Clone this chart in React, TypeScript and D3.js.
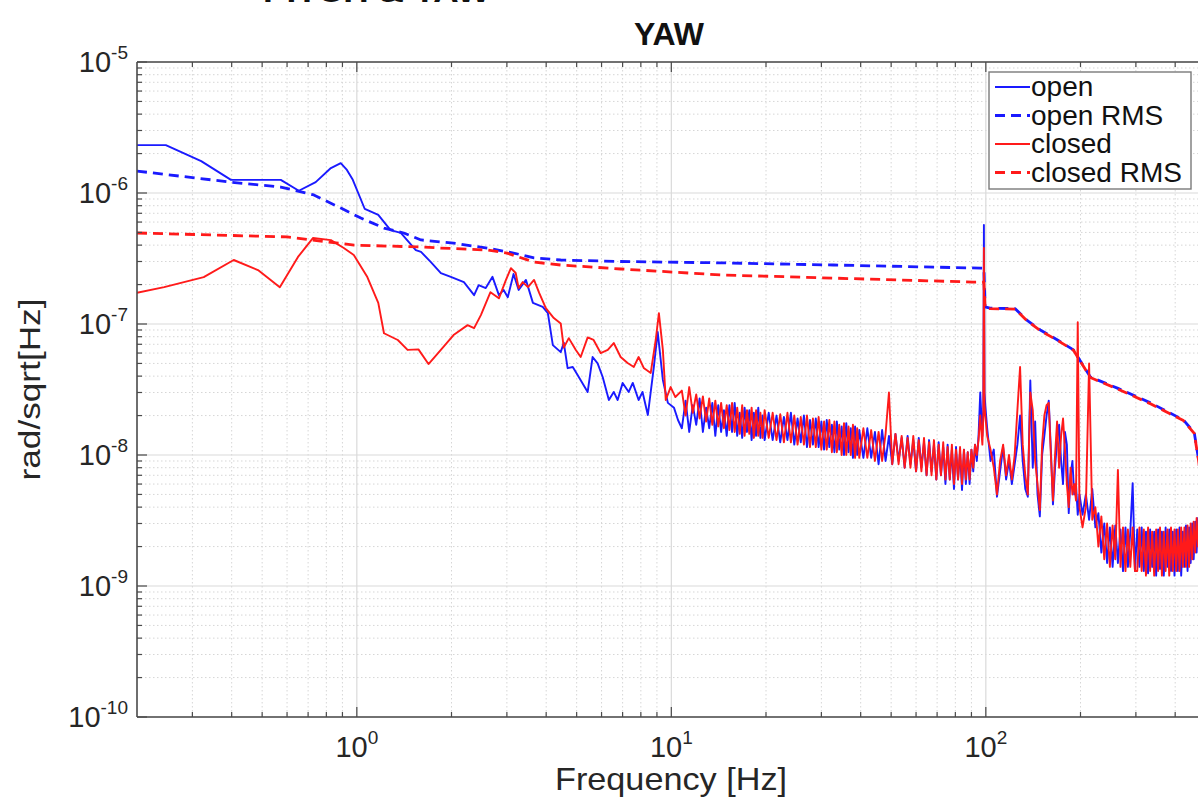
import React from 'react';
import * as d3 from 'd3';

// values in nrad/sqrt(Hz) (multiplied by NANO when plotted)
const NANO = 1e-9;

// ---- open loop PSD ----
const openLow: [number, number][] = [
  [0.2, 2320], [0.247, 2320], [0.32, 1750], [0.398, 1260], [0.573, 1260], [0.654, 1040], [0.74, 1210],
  [0.827, 1550], [0.889, 1690], [0.93, 1500], [0.971, 1260], [1.06, 755], [1.17, 680], [1.28, 520],
  [1.38, 496], [1.54, 367], [1.6, 355], [1.72, 297], [1.85, 245], [1.99, 229], [2.19, 209], [2.36, 166],
  [2.44, 198], [2.57, 188], [2.7, 229], [2.83, 166], [2.93, 182], [3.02, 160], [3.15, 241], [3.27, 182],
  [3.45, 217], [3.63, 145], [3.9, 135], [4.05, 121], [4.2, 69], [4.45, 61], [4.55, 72], [4.68, 46],
  [4.86, 47], [5.04, 40.7], [5.42, 30.3], [5.62, 56], [5.83, 50], [6.05, 39.4], [6.33, 26.3], [6.56, 30.3],
  [6.75, 26.3], [7.0, 35.5], [7.32, 30.3], [7.54, 35.5], [7.87, 26.3], [8.1, 30.3], [8.42, 20.2], [8.8, 47],
  [9.05, 87], [9.4, 37.4], [9.75, 25], [10.2, 22.9], [10.5, 18.5],
];

// ---- closed loop PSD ----
const closedLow: [number, number][] = [
  [0.2, 173], [0.244, 191], [0.326, 228], [0.406, 308], [0.485, 258], [0.569, 191], [0.65, 325], [0.725, 453],
  [0.827, 437], [0.909, 380], [0.978, 336], [1.08, 228], [1.17, 145], [1.22, 85], [1.35, 75.5], [1.45, 63.4],
  [1.57, 64], [1.69, 49.5], [1.85, 63.4], [2.03, 82.4], [2.25, 98], [2.36, 93], [2.48, 117], [2.66, 175],
  [2.83, 157], [2.98, 217], [3.09, 267], [3.2, 245], [3.27, 188], [3.37, 209], [3.5, 191], [3.66, 217],
  [3.8, 173], [3.99, 132], [4.23, 111], [4.45, 101], [4.55, 66], [4.72, 78], [4.97, 63.4], [5.15, 56],
  [5.42, 79], [5.66, 75.5], [5.96, 60], [6.28, 63.4], [6.56, 71.6], [6.9, 56], [7.26, 50.4], [7.6, 47],
  [7.87, 56], [8.17, 46.2], [8.6, 42.3], [8.92, 75.5], [9.13, 121], [9.4, 63.4], [9.6, 26.3], [9.95, 33],
  [10.3, 27.7],
];

// 10.8 - 96 Hz frequency bins
const freqMid = [
  10.8, 11.1, 11.4, 11.7, 12.0, 12.3, 12.6, 12.9, 13.2, 13.5, 13.8, 14.1, 14.4, 14.7, 15.0, 15.3, 15.6, 15.9,
  16.2, 16.5, 16.8, 17.1, 17.4, 17.7, 18.0, 18.3, 18.6, 18.9, 19.2, 19.5, 19.8,
  20.4, 21.0, 21.6, 22.2, 22.8, 23.4, 24.0, 24.6, 25.2, 25.8, 26.4, 27.0, 27.6, 28.2, 28.8, 29.4, 30.0, 30.6,
  31.2, 31.8, 32.4, 33.0, 33.6, 34.2, 34.8, 35.4, 36.0, 36.6, 37.2, 37.8, 38.4, 39.0, 39.6,
  40.8, 42.0, 43.2, 44.4, 45.6, 46.8, 48.0, 49.2, 50.4, 51.6, 52.8, 54.0, 55.2, 56.4, 57.6, 58.8, 60.0, 61.2,
  62.4, 63.6, 64.8, 66.0, 67.2, 68.4, 69.6, 70.8, 72.0, 73.2, 74.4, 75.6, 76.8, 78.0, 79.2, 80.4, 81.6, 82.8,
  84.0, 85.2, 86.4, 87.6, 88.8, 90.0, 91.2, 92.4, 93.6, 94.8, 96.0,
];
const openMid = [
  16, 26, 15, 24, 17, 27, 15, 23, 16, 25, 14, 24, 15, 22, 14, 24, 15, 25, 14, 21, 13.5, 23, 15, 22, 13, 21, 14, 23, 13.5, 20, 13,
  21, 13, 20, 12.5, 19.5, 13, 21, 12, 19, 12.5, 20, 11.5, 18.5, 12, 19, 11.5, 18, 11, 18.5, 11.5, 17, 10.5, 18, 11, 16.5, 10, 17.5, 10.5, 16, 9.5, 16.5, 10, 15.5,
  9.5, 16, 9.5, 15, 8.5, 15.5, 9, 14, 8.5, 14.5, 9, 13.5, 8, 14, 8.5, 13, 7.5, 13.5, 8, 12.5, 7, 13, 7.5, 12, 6.5, 12.5, 7, 11.5, 6, 12,
  6.5, 11, 5.5, 11.5, 6.5, 10.5, 5.4, 11, 6, 10.5, 6, 11, 7.5, 12, 9, 14, 30,
];
const closedMid = [
  31, 20, 33, 21, 29, 19, 28, 18, 27, 17, 26, 16.5, 25, 16, 24, 15.5, 25, 15, 23, 14.5, 24, 14, 22, 14.5, 23, 13.5, 22, 14, 21, 13.5, 22,
  13.5, 21, 13, 20.5, 12.5, 21, 12.5, 20, 12, 19.5, 12, 20, 11.5, 19, 11.5, 19.5, 11, 18, 11, 18.5, 10.5, 18, 10.5, 17, 10, 17.5, 10, 16.5, 10, 17, 9.5, 16, 9.5,
  16, 9.5, 15.5, 9, 15, 9, 14.5, 30, 8.5, 14.5, 8.5, 14, 8, 13.5, 8, 14, 7.5, 13, 7.5, 13.5, 7, 12.5, 7, 13, 6.5, 12, 7, 12.5, 6.5, 11.5,
  6.5, 12, 6, 11, 6.5, 11.5, 6, 11, 6.5, 10.5, 6.5, 11, 8, 12, 10, 13, 20,
];

// 100 Hz line
const openLine100: [number, number][] = [[97.5, 14], [98.2, 22], [98.6, 570], [99.0, 30], [99.6, 24]];
const closedLine100: [number, number][] = [[97.5, 12], [98.2, 20], [98.6, 380], [99.0, 24], [99.6, 20]];

// 101 - 198.5 Hz
const freqHighA = [
  101, 103.5, 106, 108.5, 111, 113.5, 116, 118.5, 121, 123.5, 126, 128.5, 131, 133.5, 136, 138.5, 141, 143.5, 146, 148.5,
  151, 153.5, 156, 158.5, 161, 163.5, 166, 168.5, 171, 173.5, 176, 178.5, 181, 183.5, 186, 188.5, 191, 193.5, 196, 198.5,
];
const openHighA = [
  16, 9, 11, 4.8, 7.5, 11.5, 6.5, 9, 6, 8.5, 12, 20, 9, 5.5, 4.8, 37, 8, 18, 5, 3.4,
  10, 14, 20, 26, 11, 4.2, 8, 13, 17, 9, 6, 15, 12, 3.6, 7, 9, 5, 6, 3.5, 5,
];
const closedHighA = [
  14, 11, 8, 5, 9, 12, 7, 10, 6.5, 10, 22, 47, 12, 7, 5, 30, 22, 9, 6, 3.8,
  12, 20, 24, 25, 10, 4.5, 10, 18, 8, 14, 19, 11, 6, 4, 8, 5, 6, 4.5, 103, 4,
];

// 203 - 488 Hz
const freqHighB = [
  203, 208, 213, 218, 223, 228, 233, 238, 243, 248, 253, 258, 263, 268, 273, 278, 283, 288, 293, 298,
  303, 308, 313, 318, 323, 328, 333, 338, 343, 348, 353, 358, 363, 368, 373, 378, 383, 388, 393, 398,
  403, 408, 413, 418, 423, 428, 433, 438, 443, 448, 453, 458, 463, 468, 473, 478, 483, 488,
];
const openHighB = [
  3.5, 5, 3.2, 5.5, 2.8, 3.6, 1.8, 3.0, 1.5, 2.8, 1.4, 2.9, 1.5, 2.7, 1.3, 2.8, 1.4, 2.6, 6.1, 1.3,
  2.7, 1.4, 2.8, 1.3, 2.6, 1.25, 2.7, 1.4, 2.6, 1.2, 2.7, 1.35, 2.6, 1.2, 2.8, 1.4, 2.7, 1.3, 2.6, 1.2,
  2.7, 1.3, 2.8, 1.2, 2.6, 1.4, 2.9, 1.3, 2.8, 1.5, 3.0, 1.6, 3.1, 1.8, 3.3, 2.0, 3.5, 3.0,
];
const closedHighB = [
  2.8, 4, 50, 3.2, 4, 2, 3.4, 1.6, 3.0, 1.4, 2.9, 1.6, 7.7, 1.4, 2.8, 1.3, 2.7, 1.4, 2.8, 1.3,
  1.3, 2.8, 1.3, 2.7, 1.2, 2.8, 1.3, 2.6, 1.2, 2.7, 1.3, 2.8, 1.2, 2.6, 1.3, 2.7, 1.2, 2.8, 1.3, 2.7,
  1.3, 2.7, 1.3, 2.8, 1.4, 2.8, 1.4, 2.9, 1.4, 3.0, 1.6, 3.1, 1.8, 3.3, 2.0, 3.5, 2.6, 3.9,
];

// ---- cumulative RMS ----
const openRMS: [number, number][] = [
  [0.2, 1470], [0.398, 1210], [0.573, 1110], [0.73, 966], [0.89, 767], [1.03, 644], [1.22, 540], [1.41, 495],
  [1.6, 438], [1.85, 423], [2.03, 414], [2.61, 379], [3.15, 348], [3.66, 320], [4.45, 308], [6.9, 300],
  [14.3, 293], [32.8, 282], [96.2, 267], [98.6, 267], [99.5, 135], [103, 132], [124, 131], [135, 107],
  [149, 90], [169, 75.5], [190, 63.4], [215, 39.4], [262, 32.4], [335, 24.9], [425, 18.5], [460, 14.8],
  [475, 9.2], [490, 5],
];
const closedRMS: [number, number][] = [
  [0.2, 495], [0.6, 462], [0.98, 400], [1.6, 387], [1.85, 380], [2.61, 367], [3.0, 348], [3.66, 297],
  [4.45, 282], [6.9, 263], [14.3, 237], [32.8, 224], [91, 209], [98.6, 209], [99.5, 132], [103, 131],
  [124, 130], [135, 106], [149, 89], [169, 75], [190, 63], [215, 39], [262, 32], [335, 24.5],
  [425, 18.3], [460, 14.6], [475, 9], [490, 5],
];

const xDomain: [number, number] = [0.2, 500];
const yDomain: [number, number] = [1e-10, 1e-5];
const xTickExps = [0, 1, 2];
const yTickExps = [-10, -9, -8, -7, -6, -5];
const legendNames = ['open', 'open RMS', 'closed', 'closed RMS'];

const pairs = (f: number[], v: number[]) => d3.zip(f, v) as [number, number][];

const openPSD: [number, number][] = [
  ...openLow,
  ...pairs(freqMid, openMid),
  ...openLine100,
  ...pairs(freqHighA, openHighA),
  ...pairs(freqHighB, openHighB),
];
const closedPSD: [number, number][] = [
  ...closedLow,
  ...pairs(freqMid, closedMid),
  ...closedLine100,
  ...pairs(freqHighA, closedHighA),
  ...pairs(freqHighB, closedHighB),
];

const BLUE = '#1a1aff';
const RED = '#ff1a1a';
const seriesList = [
  { name: legendNames[0], data: openPSD, color: BLUE, dashed: false },
  { name: legendNames[1], data: openRMS, color: BLUE, dashed: true },
  { name: legendNames[2], data: closedPSD, color: RED, dashed: false },
  { name: legendNames[3], data: closedRMS, color: RED, dashed: true },
];

const FONT = '"Liberation Sans", Arial, Helvetica, sans-serif';

export default function App() {
  const left = 137, top = 62, bottom = 717;
  const right = left + 314.5 * Math.log10(xDomain[1] / xDomain[0]);
  const x = d3.scaleLog().domain(xDomain).range([left, right]);
  const y = d3.scaleLog().domain(yDomain).range([bottom, top]);
  const line = d3
    .line<[number, number]>()
    .x((d) => x(d[0]))
    .y((d) => y(d[1] * NANO));

  const isMajor = (v: number) => Math.abs(Math.log10(v) - Math.round(Math.log10(v))) < 1e-9;
  const xMinor = x.ticks().filter((v) => !isMajor(v) && v > xDomain[0] * 1.001);
  const yMinor = y.ticks().filter((v) => !isMajor(v));
  const xMajor = xTickExps.map((e) => Math.pow(10, e));
  const yMajor = yTickExps.map((e) => Math.pow(10, e));
  const axisColor = '#4a4a4a';

  return (
    <svg
      width={1198}
      height={801}
      style={{ position: 'absolute', left: 0, top: 0, background: '#fff' }}
      fontFamily={FONT}
    >
      <defs>
        <clipPath id="plotclip">
          <rect x={left} y={top} width={right - left} height={bottom - top} />
        </clipPath>
      </defs>
      <rect x={0} y={0} width={1198} height={801} fill="#fff" />
      {/* heading of the figure above, cut off at the top edge as in the reference */}
      <text x={263} y={2} fontSize={30} fontWeight="bold" textLength={227} lengthAdjust="spacingAndGlyphs" fill="#111">
        PITCH &amp; YAW
      </text>
      {/* grid */}
      <g>
        {xMinor.map((v, i) => (
          <line key={'xm' + i} x1={x(v)} x2={x(v)} y1={top} y2={bottom} stroke="#d6d6d6" strokeWidth={1} strokeDasharray="1.5,2.5" />
        ))}
        {yMinor.map((v, i) => (
          <line key={'ym' + i} x1={left} x2={right} y1={y(v)} y2={y(v)} stroke="#d6d6d6" strokeWidth={1} strokeDasharray="1.5,2.5" />
        ))}
        {xMajor.map((v, i) => (
          <line key={'xM' + i} x1={x(v)} x2={x(v)} y1={top} y2={bottom} stroke="#dadada" strokeWidth={1.2} />
        ))}
        {yMajor.map((v, i) => (
          <line key={'yM' + i} x1={left} x2={right} y1={y(v)} y2={y(v)} stroke="#dadada" strokeWidth={1.2} />
        ))}
      </g>
      {/* data */}
      <g clipPath="url(#plotclip)">
        {seriesList.map((s) => (
          <path
            key={s.name}
            d={line(s.data) || ''}
            fill="none"
            stroke={s.color}
            strokeWidth={s.dashed ? 2.8 : 1.9}
            strokeDasharray={s.dashed ? '10,6' : undefined}
            strokeLinejoin="round"
          />
        ))}
      </g>
      {/* axes frame */}
      <line x1={left} x2={left} y1={top} y2={bottom} stroke={axisColor} strokeWidth={1.6} />
      <line x1={left} x2={right} y1={bottom} y2={bottom} stroke={axisColor} strokeWidth={1.6} />
      <line x1={left} x2={right} y1={top} y2={top} stroke={axisColor} strokeWidth={1.6} />
      {/* ticks */}
      <g stroke={axisColor} strokeWidth={1.2}>
        {xMinor.map((v, i) => (
          <g key={'xt' + i}>
            <line x1={x(v)} x2={x(v)} y1={bottom} y2={bottom - 5} />
            <line x1={x(v)} x2={x(v)} y1={top} y2={top + 5} />
          </g>
        ))}
        {xMajor.map((v, i) => (
          <g key={'xT' + i}>
            <line x1={x(v)} x2={x(v)} y1={bottom} y2={bottom - 10} />
            <line x1={x(v)} x2={x(v)} y1={top} y2={top + 10} />
          </g>
        ))}
        {yMinor.map((v, i) => (
          <line key={'yt' + i} x1={left} x2={left + 5} y1={y(v)} y2={y(v)} />
        ))}
        {yMajor.map((v, i) => (
          <line key={'yT' + i} x1={left} x2={left + 10} y1={y(v)} y2={y(v)} />
        ))}
      </g>
      {/* tick labels */}
      <g fill="#262626">
        {xTickExps.map((e) => (
          <text key={'xl' + e} x={x(Math.pow(10, e))} y={757} textAnchor="middle" fontSize={29}>
            10<tspan dy={-13} fontSize={19}>{String(e)}</tspan>
          </text>
        ))}
        {yTickExps.map((e) => (
          <text key={'yl' + e} x={128} y={y(Math.pow(10, e)) + 10} textAnchor="end" fontSize={29}>
            10<tspan dy={-13} fontSize={19}>{String(e)}</tspan>
          </text>
        ))}
      </g>
      {/* title and axis labels */}
      <text x={669} y={45} textAnchor="middle" fontSize={32} fontWeight="bold" fill="#111">
        YAW
      </text>
      <text x={671} y={790} textAnchor="middle" fontSize={32} fill="#262626" textLength={232} lengthAdjust="spacingAndGlyphs">
        Frequency [Hz]
      </text>
      <text
        transform={`translate(40, ${(top + bottom) / 2}) rotate(-90)`}
        textAnchor="middle"
        fontSize={30}
        fill="#262626"
        textLength={182}
        lengthAdjust="spacingAndGlyphs"
      >
        rad/sqrt[Hz]
      </text>
      {/* legend */}
      <g>
        <rect x={989} y={72} width={202} height={117} fill="#fff" stroke="#7a7a7a" strokeWidth={1.4} />
        {seriesList.map((s, i) => {
          const ly = 87 + i * 28.5;
          return (
            <g key={'lg' + s.name}>
              <line
                x1={995}
                x2={1030}
                y1={ly}
                y2={ly}
                stroke={s.color}
                strokeWidth={s.dashed ? 2.8 : 1.8}
                strokeDasharray={s.dashed ? '10,6' : undefined}
              />
              <text x={1031} y={ly + 9} fontSize={28} fill="#111">
                {s.name}
              </text>
            </g>
          );
        })}
      </g>
    </svg>
  );
}
